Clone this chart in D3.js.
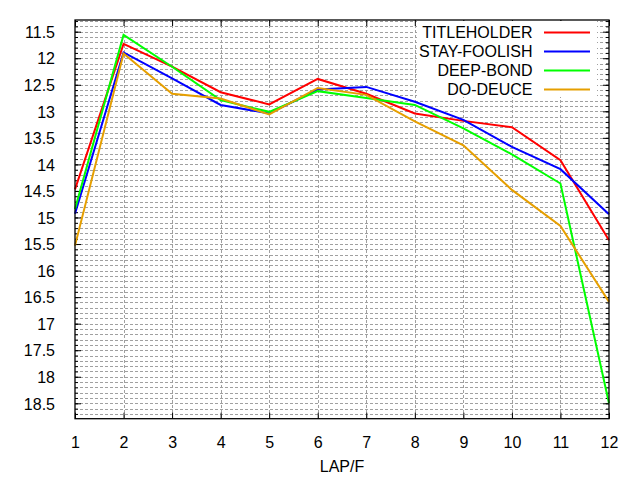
<!DOCTYPE html>
<html>
<head>
<meta charset="utf-8">
<script src="https://cdn.jsdelivr.net/npm/d3@7"></script>
<style>
	body { margin: 0; background: #ffffff; }
	text { font-family: "Liberation Sans", Arial, sans-serif; font-size: 16px; fill: #000000; }
</style>
</head>
<body>
<script>

//lap numbers along the x axis
var laps = [1, 2, 3, 4, 5, 6, 7, 8, 9, 10, 11, 12];

//lap times per furlong for each horse
var titleholder = [14.47, 11.73, 12.16, 12.64, 12.87, 12.39, 12.67, 13.04, 13.18, 13.30, 13.92, 15.43];
var stayFoolish = [14.93, 11.89, 12.38, 12.88, 13.04, 12.59, 12.54, 12.82, 13.16, 13.67, 14.09, 14.94];
var deepBond    = [14.84, 11.56, 12.16, 12.79, 13.01, 12.62, 12.75, 12.88, 13.32, 13.81, 14.36, 18.50];
var doDeuce     = [15.53, 11.91, 12.67, 12.76, 13.06, 12.56, 12.69, 13.19, 13.64, 14.48, 15.16, 16.59];

var seriesNames = ["TITLEHOLDER", "STAY-FOOLISH", "DEEP-BOND", "DO-DEUCE"];
var seriesValues = [titleholder, stayFoolish, deepBond, doDeuce];

//tick values (halves for labels, tenths for the minor grid)
var yTicks = d3.range(23, 38).map(function(d) { return d / 2; });
var yMinor = d3.range(113, 188).map(function(d) { return d / 10; });

var colors = ["#ff0000", "#0000ff", "#00ff00", "#e69f00"];

var width = 640;
var height = 480;
//plot box (don't call these top/left, window.top is read only)
var plotLeft = 75, plotRight = 609, plotTop = 20, plotBottom = 418.7;

var xScale = d3.scaleLinear()
				.domain([1, 12])
				.range([plotLeft, plotRight]);

//lap time axis is reversed, faster at the top
var yScale = d3.scaleLinear()
				.domain([11.28, 18.79])
				.range([plotTop, plotBottom]);

var svg = d3.select("body")
			.append("svg")
			.attr("width", width)
			.attr("height", height);

//dashed grid
var grid = svg.append("g")
			.attr("stroke", "#a0a0a0")
			.attr("stroke-width", 1)
			.attr("stroke-dasharray", "3,2");

grid.selectAll(".hgrid")
	.data(yMinor)
	.enter()
		.append("line")
		.attr("class", "hgrid")
		.attr("x1", plotLeft)
		.attr("x2", plotRight)
		.attr("y1", function(d) { return Math.round(yScale(d)) + 0.5; })
		.attr("y2", function(d) { return Math.round(yScale(d)) + 0.5; });

grid.selectAll(".vgrid")
	.data(laps.slice(1, -1))
	.enter()
		.append("line")
		.attr("class", "vgrid")
		.attr("y1", plotTop)
		.attr("y2", plotBottom)
		.attr("x1", function(d) { return Math.round(xScale(d)) + 0.5; })
		.attr("x2", function(d) { return Math.round(xScale(d)) + 0.5; });

//axes, ticks pointing into the plot on all four sides
var yLeft = d3.axisLeft(yScale)
			.tickValues(yTicks)
			.tickSizeInner(-6)
			.tickSizeOuter(0)
			.tickPadding(20)
			.tickFormat(function(d) { return String(d); });

var yLeftMinor = d3.axisLeft(yScale)
			.tickValues(yMinor)
			.tickSizeInner(-3)
			.tickSizeOuter(0)
			.tickFormat("");

var yRight = d3.axisRight(yScale)
			.tickValues(yTicks)
			.tickSizeInner(-6)
			.tickSizeOuter(0)
			.tickFormat("");

var yRightMinor = d3.axisRight(yScale)
			.tickValues(yMinor)
			.tickSizeInner(-3)
			.tickSizeOuter(0)
			.tickFormat("");

var xBottom = d3.axisBottom(xScale)
			.tickValues(laps)
			.tickSizeInner(-6)
			.tickSizeOuter(0)
			.tickPadding(18)
			.tickFormat(function(d) { return String(d); });

var xTop = d3.axisTop(xScale)
			.tickValues(laps)
			.tickSizeInner(-6)
			.tickSizeOuter(0)
			.tickFormat("");

function place(axis, x, y)
{
	var g = svg.append("g")
			.attr("transform", "translate(" + x + "," + y + ")")
			.call(axis);
	g.select(".domain").remove();
	g.selectAll("line").attr("stroke", "#000000");
	g.selectAll("text")
		.attr("font-family", null)
		.attr("font-size", null)
		.attr("fill", "#000000");
	return g;
}

place(yLeft, plotLeft, 0).selectAll("text").attr("dy", "0.36em");
place(yLeftMinor, plotLeft, 0);
place(yRight, plotRight, 0);
place(yRightMinor, plotRight, 0);
place(xBottom, 0, plotBottom).selectAll("text").attr("dy", "0.71em");
place(xTop, 0, plotTop);

//x axis title
svg.append("text")
	.attr("x", (plotLeft + plotRight) / 2)
	.attr("y", 472)
	.attr("text-anchor", "middle")
	.text("LAP/F");

//legend background covers the grid
svg.append("rect")
	.attr("x", 417)
	.attr("y", 21)
	.attr("width", 180)
	.attr("height", 76)
	.attr("fill", "#ffffff");

//one line per horse
var line = d3.line()
			.x(function(d, i) { return xScale(laps[i]); })
			.y(function(d) { return yScale(d); });

svg.selectAll(".series")
	.data(seriesValues)
	.enter()
		.append("path")
		.attr("class", "series")
		.attr("d", function(d) { return line(d); })
		.attr("fill", "none")
		.attr("stroke", function(d, i) { return colors[i]; })
		.attr("stroke-width", 2);

//legend entries
var legend = svg.selectAll(".key")
			.data(seriesNames)
			.enter()
				.append("g")
				.attr("class", "key")
				.attr("transform", function(d, i) { return "translate(0," + (32.5 + i * 19) + ")"; });

legend.append("text")
	.attr("x", 532.5)
	.attr("dy", "0.36em")
	.attr("text-anchor", "end")
	.text(function(d) { return d; });

legend.append("line")
	.attr("x1", 544)
	.attr("x2", 590)
	.attr("y1", 0)
	.attr("y2", 0)
	.attr("stroke", function(d, i) { return colors[i]; })
	.attr("stroke-width", 2);

//plot border
svg.append("rect")
	.attr("x", plotLeft)
	.attr("y", plotTop)
	.attr("width", plotRight - plotLeft)
	.attr("height", plotBottom - plotTop)
	.attr("fill", "none")
	.attr("stroke", "#000000")
	.attr("stroke-width", 1.3);

</script>
</body>
</html>
